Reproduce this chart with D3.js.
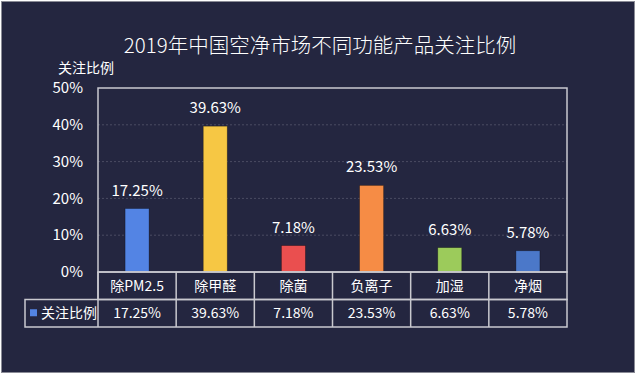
<!DOCTYPE html>
<html>
<head>
<meta charset="utf-8">
<script src="https://cdn.jsdelivr.net/npm/d3@7"></script>
<style>
  body { margin: 0; background: #ffffff; }
  svg { display: block; }
  text { font-family: "Noto Sans CJK SC", "Noto Sans", sans-serif; fill: #ffffff; }
</style>
</head>
<body>
<svg id="chart" width="640" height="377"></svg>
<script>
// data
var title = '2019年中国空净市场不同功能产品关注比例';
var series_name = '关注比例';
var categories = ['除PM2.5', '除甲醛', '除菌', '负离子', '加湿', '净烟'];
var values = [17.25, 39.63, 7.18, 23.53, 6.63, 5.78];
var bar_colors = ['#5384e4', '#f6c744', '#ea4f4f', '#f68c45', '#9ccb5b', '#4b78c9'];
var y_ticks = [0, 10, 20, 30, 40, 50];

var svg = d3.select('#chart');
var bg = '#242640';
var line_col = '#c9c9cf';

// frame of the picture
svg.append('rect')
   .attr('x', 1.5).attr('y', 1.5)
   .attr('width', 633).attr('height', 371)
   .attr('fill', bg)
   .attr('stroke', '#8a8b96')
   .attr('stroke-width', 1);

var plot = {left: 98, right: 567, top: 88, bottom: 272};
var row_h = 27.5;

var x = d3.scaleBand().domain(categories).range([plot.left, plot.right]);
var y = d3.scaleLinear().domain([0, 50]).range([plot.bottom, plot.top]);

// title
svg.append('text')
   .attr('x', 320).attr('y', 53)
   .attr('text-anchor', 'middle')
   .attr('font-size', 20.5)
   .attr('font-weight', 300)
   .text(title);

// axis title
svg.append('text')
   .attr('x', 86).attr('y', 73)
   .attr('text-anchor', 'middle')
   .attr('font-size', 14)
   .text(series_name);

// dotted gridlines
svg.append('g')
   .selectAll('line')
   .data(y_ticks.filter(t => t > 0 && t < 50))
   .enter()
   .append('line')
   .attr('x1', plot.left).attr('x2', plot.right)
   .attr('y1', d => y(d)).attr('y2', d => y(d))
   .attr('stroke', '#4a4c62')
   .attr('stroke-width', 1)
   .attr('stroke-dasharray', '2,2');

// y tick labels
svg.append('g')
   .selectAll('text')
   .data(y_ticks)
   .enter()
   .append('text')
   .attr('x', 83)
   .attr('y', d => y(d))
   .attr('dy', '0.35em')
   .attr('text-anchor', 'end')
   .attr('font-size', 15)
   .text(d => d + '%');

// bars
var bar_w = 24;
svg.append('g')
   .selectAll('rect')
   .data(values)
   .enter()
   .append('rect')
   .attr('x', (d, i) => x(categories[i]) + x.bandwidth() / 2 - bar_w / 2)
   .attr('y', d => y(d))
   .attr('width', bar_w)
   .attr('height', d => y(0) - y(d))
   .attr('fill', (d, i) => bar_colors[i])
   .attr('stroke', 'rgba(0,0,0,0.35)')
   .attr('stroke-width', 0.8);

// value labels
svg.append('g')
   .selectAll('text')
   .data(values)
   .enter()
   .append('text')
   .attr('x', (d, i) => x(categories[i]) + x.bandwidth() / 2)
   .attr('y', d => y(d) - 13)
   .attr('text-anchor', 'middle')
   .attr('font-size', 15)
   .text(d => d.toFixed(2) + '%');

// plot border
svg.append('rect')
   .attr('x', plot.left).attr('y', plot.top)
   .attr('width', plot.right - plot.left)
   .attr('height', plot.bottom - plot.top)
   .attr('fill', 'none')
   .attr('stroke', line_col)
   .attr('stroke-width', 1.5);

// data table
var table = svg.append('g');
var row1 = plot.bottom, row2 = plot.bottom + row_h, row3 = plot.bottom + 2 * row_h;
var legend_left = 25;

table.append('rect')
   .attr('x', plot.left).attr('y', row1)
   .attr('width', plot.right - plot.left).attr('height', row_h)
   .attr('fill', 'none').attr('stroke', line_col).attr('stroke-width', 1.5);

table.append('rect')
   .attr('x', legend_left).attr('y', row2)
   .attr('width', plot.right - legend_left).attr('height', row_h)
   .attr('fill', 'none').attr('stroke', line_col).attr('stroke-width', 1.5);

table.selectAll('.sep')
   .data(categories)
   .enter()
   .append('line')
   .attr('x1', d => x(d)).attr('x2', d => x(d))
   .attr('y1', row1).attr('y2', row3)
   .attr('stroke', line_col).attr('stroke-width', 1.5);

table.selectAll('.cat')
   .data(categories)
   .enter()
   .append('text')
   .attr('x', d => x(d) + x.bandwidth() / 2)
   .attr('y', row1 + row_h / 2)
   .attr('dy', '0.36em')
   .attr('text-anchor', 'middle')
   .attr('font-size', 14)
   .text(d => d);

table.selectAll('.val')
   .data(values)
   .enter()
   .append('text')
   .attr('x', (d, i) => x(categories[i]) + x.bandwidth() / 2)
   .attr('y', row2 + row_h / 2)
   .attr('dy', '0.36em')
   .attr('text-anchor', 'middle')
   .attr('font-size', 14)
   .text(d => d.toFixed(2) + '%');

// legend key in the table
table.append('rect')
   .attr('x', 30).attr('y', row2 + row_h / 2 - 4)
   .attr('width', 7).attr('height', 7)
   .attr('fill', bar_colors[0]);

table.append('text')
   .attr('x', 41).attr('y', row2 + row_h / 2)
   .attr('dy', '0.36em')
   .attr('font-size', 14)
   .text(series_name);
</script>
</body>
</html>
